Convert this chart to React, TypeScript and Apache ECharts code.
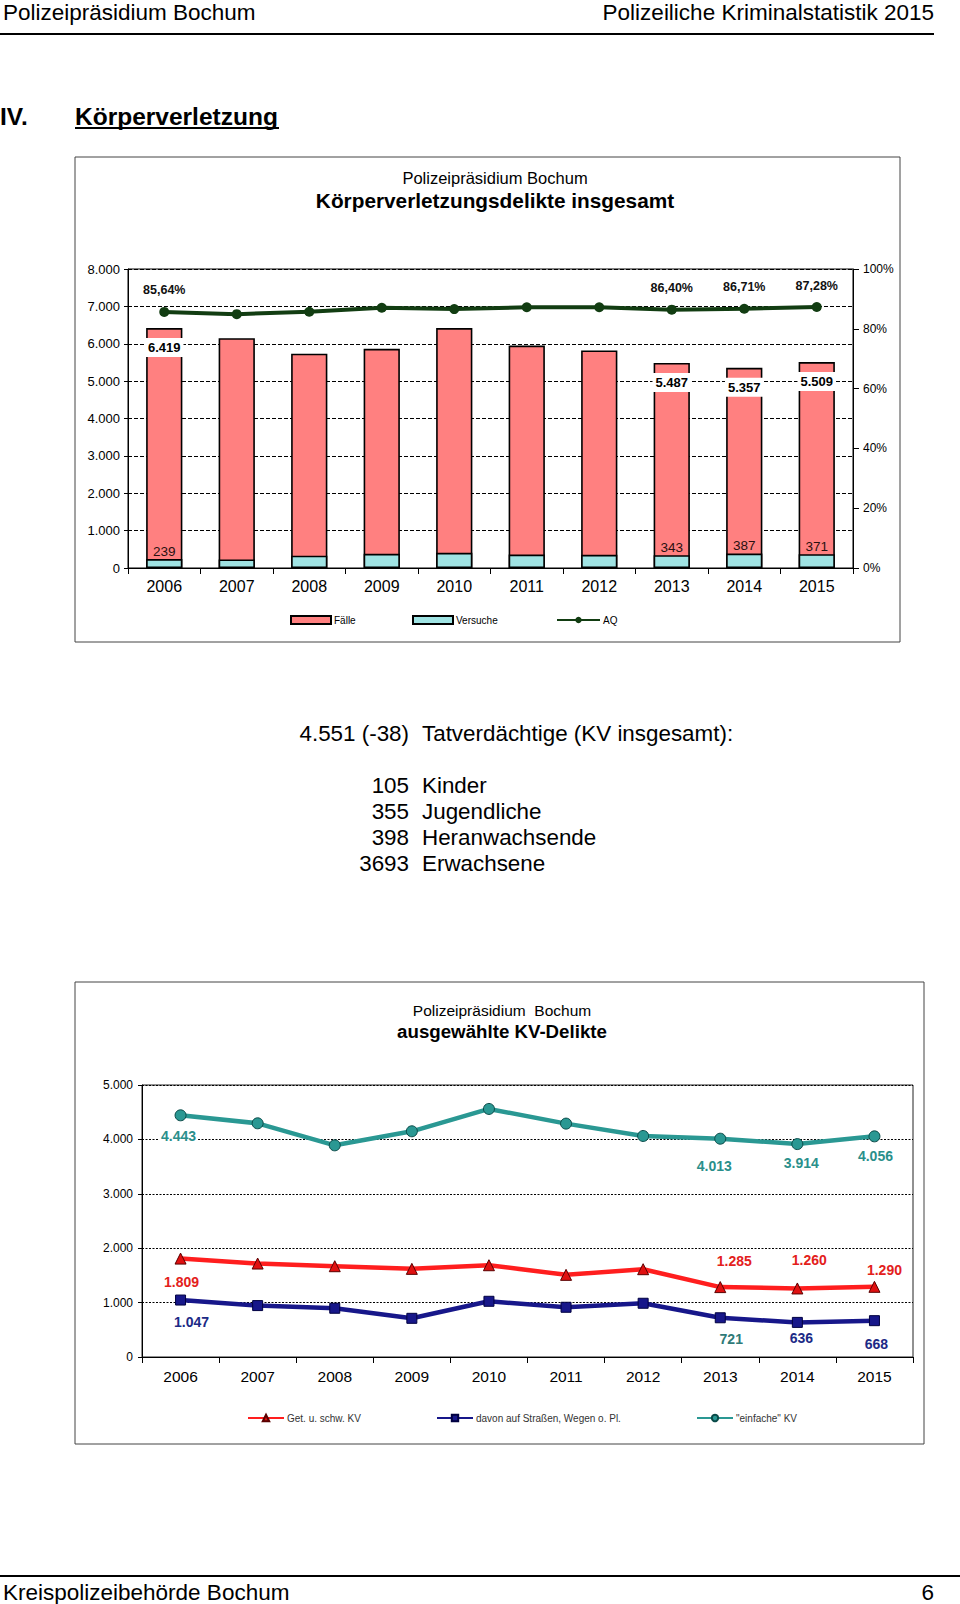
import React, { useEffect, useRef } from "react";
import * as echarts from "echarts";

// ---------- data ----------
const YEARS = ["2006", "2007", "2008", "2009", "2010", "2011", "2012", "2013", "2014", "2015"];
const FAELLE = [6419, 6150, 5735, 5865, 6420, 5950, 5820, 5487, 5357, 5509];
const VERSUCHE = [239, 228, 330, 378, 405, 360, 352, 343, 387, 371];
const AQ = [85.64, 84.9, 85.7, 87.05, 86.6, 87.2, 87.2, 86.4, 86.71, 87.28];
const LABELED_1 = [0, 7, 8, 9];

const GEF_KV = [1809, 1718, 1669, 1620, 1687, 1510, 1614, 1285, 1260, 1290];
const STRASSE_KV = [1047, 945, 896, 711, 1024, 914, 988, 721, 636, 668];
const EINFACHE_KV = [4443, 4296, 3891, 4149, 4560, 4290, 4063, 4013, 3914, 4056];
const LABELED_2 = [0, 7, 8, 9];

const Y1_TICKS = { min: 0, max: 8000, interval: 1000 };
const Y1R_TICKS = { min: 0, max: 100, interval: 20 };
const Y2_TICKS = { min: 0, max: 5000, interval: 1000 };

const TV_TOTAL = "4.551 (-38)";
const TV_TITLE = "Tatverdächtige (KV insgesamt):";
const TV_NUMS = ["105", "355", "398", "3693"];
const TV_GROUPS = ["Kinder", "Jugendliche", "Heranwachsende", "Erwachsene"];

// ---------- presentation ----------
const FONT = "'Liberation Sans', Arial, Helvetica, sans-serif";
const fmt = (n: number) => String(n).replace(/\B(?=(\d{3})+(?!\d))/g, ".");
const pct = (v: number) => v.toFixed(2).replace(".", ",") + "%";

// label offsets (dx, dy) relative to point for the labelled points in chart 2
const OFF_GEF = [[1, 23], [14, -26], [12, -28], [10, -17]];
const OFF_STR = [[11, 22], [11, 21], [4, 16], [2, 23]];
const OFF_EIN = [[-2, 21], [-6, 27], [4, 19], [1, 20]];

function txt(x: number, y: number, text: string, size: number, opts: any = {}) {
  return {
    type: "text",
    x,
    y,
    silent: true,
    style: {
      text,
      fill: opts.fill || "#000",
      fontSize: size,
      fontFamily: FONT,
      fontWeight: opts.bold ? "bold" : "normal",
      align: opts.align || "left",
      verticalAlign: "middle",
    },
  };
}

export default function App() {
  const ref = useRef<HTMLDivElement>(null);

  useEffect(() => {
    const chart = echarts.init(ref.current!, null, { renderer: "svg", width: 960, height: 1604 });

    const faelleData = FAELLE.map((v, i) => ({ value: v, label: { show: LABELED_1.includes(i) } }));
    const versData = VERSUCHE.map((v, i) => ({ value: v, label: { show: LABELED_1.includes(i) } }));
    const aqData = AQ.map((v, i) => ({ value: v, label: { show: LABELED_1.includes(i) } }));

    const mk = (arr: number[], offs: number[][]) =>
      arr.map((v, i) => {
        const k = LABELED_2.indexOf(i);
        return { value: v, label: k >= 0 ? { show: true, offset: offs[k] } : { show: false } };
      });
    const strData = mk(STRASSE_KV, OFF_STR);
    // the 2013 label of this series is printed in a teal-grey tone in the original
    (strData[7] as any).label.color = "#2F7A78";

    const axisLabelBase = { fontFamily: FONT, color: "#000" };

    const graphic: any[] = [
      txt(3, 12, "Polizeipräsidium Bochum", 22.5),
      txt(934, 12, "Polizeiliche Kriminalstatistik 2015", 22.5, { align: "right" }),
      { type: "line", silent: true, shape: { x1: 0, y1: 34, x2: 934, y2: 34 }, style: { stroke: "#000", lineWidth: 2 } },
      txt(0, 116, "IV.", 24.5, { bold: true }),
      txt(75, 116, "Körperverletzung", 24.5, { bold: true }),
      { type: "line", silent: true, shape: { x1: 75, y1: 128, x2: 279, y2: 128 }, style: { stroke: "#000", lineWidth: 2 } },
      // chart 1 frame & titles
      { type: "rect", silent: true, shape: { x: 75, y: 157, width: 825, height: 485 }, style: { fill: "none", stroke: "#444", lineWidth: 1 } },
      txt(495, 178, "Polizeipräsidium Bochum", 16.5, { align: "center" }),
      txt(495, 200, "Körperverletzungsdelikte insgesamt", 20.8, { align: "center", bold: true }),
      // text block
      txt(409, 733, TV_TOTAL, 22.4, { align: "right" }),
      txt(422, 733, TV_TITLE, 22.4),
      // chart 2 frame & titles
      { type: "rect", silent: true, shape: { x: 75, y: 982, width: 849, height: 462 }, style: { fill: "none", stroke: "#444", lineWidth: 1 } },
      txt(502, 1010, "Polizeipräsidium  Bochum", 15.5, { align: "center" }),
      txt(502, 1031, "ausgewählte KV-Delikte", 18.7, { align: "center", bold: true }),
      // footer
      { type: "line", silent: true, shape: { x1: 0, y1: 1576, x2: 960, y2: 1576 }, style: { stroke: "#000", lineWidth: 2 } },
      txt(3, 1592, "Kreispolizeibehörde Bochum", 22.5),
      txt(934, 1592, "6", 22.5, { align: "right" }),
    ];
    const rowsY = [785, 811, 837, 863];
    TV_NUMS.forEach((n, i) => {
      graphic.push(txt(409, rowsY[i], n, 22.4, { align: "right" }));
      graphic.push(txt(422, rowsY[i], TV_GROUPS[i], 22.4));
    });

    const legendBase = {
      padding: 0,
      itemGap: 4,
      selectedMode: false,
      textStyle: { fontSize: 10, fontFamily: FONT, color: "#000", padding: [0, 0, 0, -2] },
    };

    const option: any = {
      animation: false,
      backgroundColor: "#fff",
      textStyle: { fontFamily: FONT },
      graphic,
      grid: [
        { left: 128, top: 269, width: 725, height: 299, show: true, borderColor: "#000", borderWidth: 1, backgroundColor: "transparent" },
        { left: 142, top: 1085, width: 771, height: 272, show: true, borderColor: "#222", borderWidth: 1, backgroundColor: "transparent" },
      ],
      legend: [
        { ...legendBase, data: ["Fälle"], left: 290, top: 615, itemWidth: 40, itemHeight: 8, icon: "rect" },
        { ...legendBase, data: ["Versuche"], left: 412, top: 615, itemWidth: 40, itemHeight: 8, icon: "rect" },
        { ...legendBase, data: ["AQ"], left: 556, top: 615, itemWidth: 43, itemHeight: 8 },
        { ...legendBase, data: ["Get. u. schw. KV"], left: 247, top: 1413, itemWidth: 36, itemHeight: 8, textStyle: { ...legendBase.textStyle, color: "#333" } },
        { ...legendBase, data: ["davon auf Straßen, Wegen o. Pl."], left: 436, top: 1413, itemWidth: 36, itemHeight: 8, textStyle: { ...legendBase.textStyle, color: "#333" } },
        { ...legendBase, data: ['"einfache" KV'], left: 696, top: 1413, itemWidth: 36, itemHeight: 8, textStyle: { ...legendBase.textStyle, color: "#333" } },
      ],
      xAxis: [
        {
          gridIndex: 0,
          type: "category",
          data: YEARS,
          axisLine: { lineStyle: { color: "#000", width: 1.2 } },
          axisTick: { show: true, length: 6, lineStyle: { color: "#000" } },
          axisLabel: { ...axisLabelBase, fontSize: 16, margin: 10 },
        },
        {
          gridIndex: 1,
          type: "category",
          data: YEARS,
          axisLine: { lineStyle: { color: "#000", width: 1.2 } },
          axisTick: { show: true, length: 6, lineStyle: { color: "#000" } },
          axisLabel: { ...axisLabelBase, fontSize: 15.5, margin: 11 },
        },
      ],
      yAxis: [
        {
          gridIndex: 0,
          type: "value",
          ...Y1_TICKS,
          axisLine: { show: true, lineStyle: { color: "#000" } },
          axisTick: { show: true, length: 4, lineStyle: { color: "#000" } },
          axisLabel: { ...axisLabelBase, fontSize: 13, margin: 8, formatter: (v: number) => fmt(v) },
          splitLine: { show: true, lineStyle: { color: "#000", type: [4, 2], width: 1 } },
        },
        {
          gridIndex: 0,
          type: "value",
          position: "right",
          ...Y1R_TICKS,
          axisLine: { show: true, lineStyle: { color: "#000" } },
          axisTick: { show: true, length: 6, lineStyle: { color: "#000" } },
          axisLabel: { ...axisLabelBase, fontSize: 12, margin: 10, formatter: "{value}%" },
          splitLine: { show: false },
        },
        {
          gridIndex: 1,
          type: "value",
          ...Y2_TICKS,
          axisLine: { show: true, lineStyle: { color: "#000" } },
          axisTick: { show: true, length: 4, lineStyle: { color: "#000" } },
          axisLabel: { ...axisLabelBase, fontSize: 12, margin: 9, formatter: (v: number) => fmt(v) },
          splitLine: { show: true, lineStyle: { color: "#000", type: [2, 1.5], width: 1 } },
        },
      ],
      series: [
        {
          name: "Fälle",
          type: "bar",
          xAxisIndex: 0,
          yAxisIndex: 0,
          data: faelleData,
          barWidth: "50%",
          barGap: "-100%",
          itemStyle: { color: "#FF8080", borderColor: "#000", borderWidth: 1.6 },
          label: {
            position: "insideTop",
            distance: 10,
            formatter: (p: any) => fmt(p.value),
            backgroundColor: "#fff",
            padding: [3, 3],
            fontSize: 13,
            fontWeight: "bold",
            color: "#000",
            fontFamily: FONT,
          },
          z: 2,
        },
        {
          name: "Versuche",
          type: "bar",
          xAxisIndex: 0,
          yAxisIndex: 0,
          data: versData,
          barWidth: "50%",
          barGap: "-100%",
          itemStyle: { color: "#9FE3E3", borderColor: "#000", borderWidth: 1.6 },
          label: {
            position: "top",
            distance: 1,
            formatter: (p: any) => fmt(p.value),
            fontSize: 13.5,
            color: "#2a1010",
            fontFamily: FONT,
          },
          z: 3,
        },
        {
          name: "AQ",
          type: "line",
          xAxisIndex: 0,
          yAxisIndex: 1,
          data: aqData,
          symbol: "circle",
          symbolSize: 10,
          lineStyle: { color: "#123D12", width: 4 },
          itemStyle: { color: "#123D12" },
          label: {
            position: "top",
            distance: 10,
            formatter: (p: any) => pct(p.value),
            fontSize: 12.5,
            fontWeight: "bold",
            color: "#111",
            fontFamily: FONT,
          },
          z: 4,
        },
        {
          name: "Get. u. schw. KV",
          type: "line",
          xAxisIndex: 1,
          yAxisIndex: 2,
          data: mk(GEF_KV, OFF_GEF),
          symbol: "triangle",
          symbolSize: 11,
          lineStyle: { color: "#FF1E1E", width: 4.5 },
          itemStyle: { color: "#E01010", borderColor: "#5a0000", borderWidth: 1 },
          label: {
            position: "inside",
            formatter: (p: any) => fmt(p.value),
            backgroundColor: "#fff",
            padding: [1, 2],
            fontSize: 14,
            fontWeight: "bold",
            color: "#E3201B",
            fontFamily: FONT,
          },
          z: 4,
        },
        {
          name: "davon auf Straßen, Wegen o. Pl.",
          type: "line",
          xAxisIndex: 1,
          yAxisIndex: 2,
          data: strData,
          symbol: "rect",
          symbolSize: 10,
          lineStyle: { color: "#17178A", width: 4.5 },
          itemStyle: { color: "#17178A", borderColor: "#000040", borderWidth: 1 },
          label: {
            position: "inside",
            formatter: (p: any) => fmt(p.value),
            backgroundColor: "#fff",
            padding: [1, 2],
            fontSize: 14,
            fontWeight: "bold",
            color: "#1C2A86",
            fontFamily: FONT,
          },
          z: 4,
        },
        {
          name: '"einfache" KV',
          type: "line",
          xAxisIndex: 1,
          yAxisIndex: 2,
          data: mk(EINFACHE_KV, OFF_EIN),
          symbol: "circle",
          symbolSize: 11,
          lineStyle: { color: "#2A9893", width: 4.5 },
          itemStyle: { color: "#2A9893", borderColor: "#0A4A48", borderWidth: 1 },
          label: {
            position: "inside",
            formatter: (p: any) => fmt(p.value),
            backgroundColor: "#fff",
            padding: [1, 2],
            fontSize: 14,
            fontWeight: "bold",
            color: "#2A8F8B",
            fontFamily: FONT,
          },
          z: 4,
        },
      ],
    };

    chart.setOption(option);
    return () => chart.dispose();
  }, []);

  return (
    <div
      ref={ref}
      style={{ position: "absolute", left: 0, top: 0, width: 960, height: 1604, background: "#fff" }}
    />
  );
}
